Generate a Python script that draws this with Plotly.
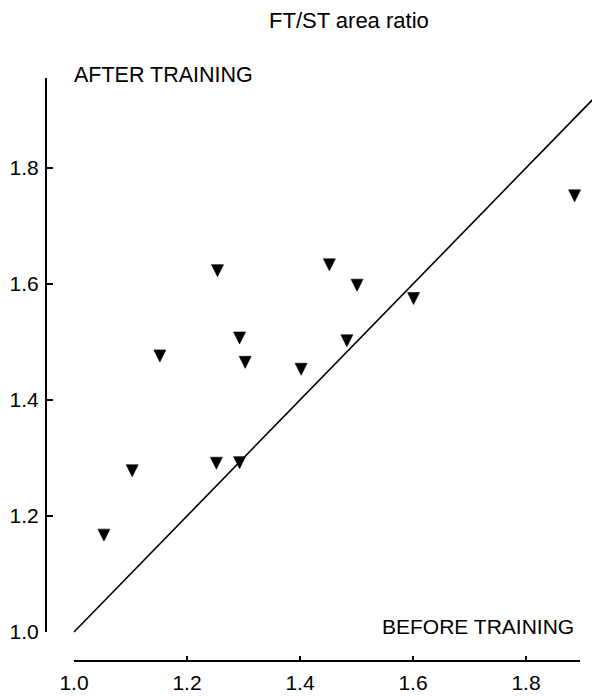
import plotly.graph_objects as go

# ---- data ----
before_training = [1.053, 1.103, 1.152, 1.254, 1.452, 1.501, 1.601, 1.293, 1.303,
                   1.483, 1.402, 1.252, 1.293, 1.886]
after_training = [1.167, 1.278, 1.476, 1.623, 1.633, 1.598, 1.575, 1.507, 1.465,
                  1.502, 1.453, 1.291, 1.292, 1.752]
identity_line = [1.0, 1.95]
tick_values = [1.0, 1.2, 1.4, 1.6, 1.8]
tick_labels = ["1.0", "1.2", "1.4", "1.6", "1.8"]

W, H = 592, 696
FONT = "Liberation Sans, Arial, Helvetica, sans-serif"

# pixel geometry of the original
x0_px, x_scale = 74.0, 565.0     # pixel of x=1.0, px per unit
y0_px, y_scale = 632.0, 580.0    # pixel of y=1.0, px per unit
marker_size = 12


def xv(px):
    return 1.0 + (px - x0_px) / x_scale


def yv(py):
    return 1.0 + (y0_px - py) / y_scale


fig = go.Figure()

# identity line
fig.add_trace(go.Scatter(x=identity_line, y=identity_line, mode="lines",
                         line=dict(color="black", width=1.6),
                         xaxis="x", yaxis="y", hoverinfo="skip", showlegend=False))

# data points (arrow-down symbol has its tip at the point; the overlay axis
# recentres the glyph on the value)
fig.add_trace(go.Scatter(x=before_training, y=after_training, mode="markers",
                         marker=dict(symbol="arrow-down", size=marker_size, color="black",
                                     line=dict(color="black", width=0.6)),
                         xaxis="x", yaxis="y4", showlegend=False))

# empty traces so the two axis-only subplots are created
fig.add_trace(go.Scatter(x=[], y=[], xaxis="x2", yaxis="y2", showlegend=False))
fig.add_trace(go.Scatter(x=[], y=[], xaxis="x3", yaxis="y3", showlegend=False))

shift = (marker_size / 2) / y_scale
yr = [yv(H), yv(0)]

fig.update_layout(
    width=W, height=H, autosize=False,
    margin=dict(l=0, r=0, t=0, b=0, autoexpand=False),
    paper_bgcolor="white", plot_bgcolor="rgba(0,0,0,0)",
    font=dict(family=FONT, color="black", size=21),
    showlegend=False,
    # data subplot
    xaxis=dict(domain=[0, 1], range=[xv(0), xv(W)], visible=False, anchor="y"),
    yaxis=dict(domain=[0, 1], range=yr, visible=False, anchor="x"),
    yaxis4=dict(overlaying="y", range=[yr[0] + shift, yr[1] + shift],
                visible=False, anchor="x"),
    # bottom axis
    xaxis2=dict(domain=[x0_px / W, 580 / W], range=[1.0 - 1e-6, xv(580)],
                anchor="y2", showline=True, linecolor="black", linewidth=2,
                ticks="inside", ticklen=4, tickwidth=1.5, tickcolor="black",
                tickvals=tick_values, ticktext=tick_labels, showgrid=False,
                zeroline=False, tickfont=dict(size=21, family=FONT),
                ticklabelstandoff=3),
    yaxis2=dict(domain=[1 - 660 / H, 1], range=[0, 1], showline=False, showgrid=False,
                zeroline=False, showticklabels=False, ticks="", anchor="x2"),
    # left axis
    xaxis3=dict(domain=[47 / W, 1], range=[0, 1], showline=False, showgrid=False,
                zeroline=False, showticklabels=False, ticks="", anchor="y3"),
    yaxis3=dict(domain=[1 - y0_px / H, 1 - 78 / H], range=[1.0 - 1e-6, yv(78)],
                anchor="x3", showline=True, linecolor="black", linewidth=2,
                ticks="inside", ticklen=6, tickwidth=1.5, tickcolor="black",
                tickvals=tick_values, ticktext=tick_labels, showgrid=False,
                zeroline=False, tickfont=dict(size=21, family=FONT),
                ticklabelstandoff=2),
    annotations=[
        dict(text="FT/ST area ratio", x=349 / W, y=1 - 20 / H, xref="paper", yref="paper",
             xanchor="center", yanchor="middle", showarrow=False,
             font=dict(size=22, family=FONT)),
        dict(text="AFTER TRAINING", x=72 / W, y=1 - 75 / H, xref="paper", yref="paper",
             xanchor="left", yanchor="middle", showarrow=False,
             font=dict(size=21.5, family=FONT)),
        dict(text="BEFORE TRAINING", x=576 / W, y=1 - 626 / H, xref="paper", yref="paper",
             xanchor="right", yanchor="middle", showarrow=False,
             font=dict(size=21, family=FONT)),
    ],
)

fig.write_html("out.html", config={"displayModeBar": False},
               post_script="document.body.style.margin='0';")
